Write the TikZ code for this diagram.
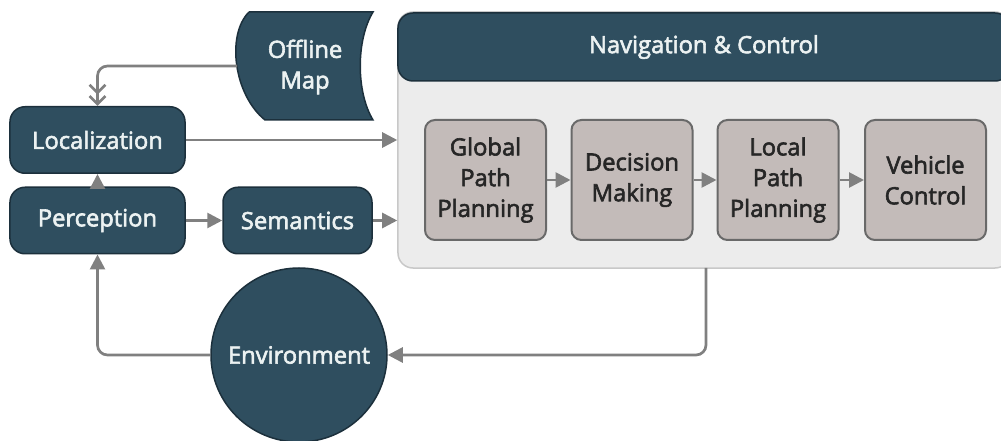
\documentclass[tikz,border=0pt]{standalone}
\usepackage{fontspec}
\setmainfont{Open Sans}
\newfontfamily\labelfamily{Open Sans}[FakeBold=2.5]
\usetikzlibrary{arrows.meta, shapes.geometric}
\definecolor{navy}{RGB}{47,78,95}
\definecolor{navyedge}{RGB}{28,48,60}
\definecolor{paper}{RGB}{236,242,242}
\definecolor{stone}{RGB}{195,187,185}
\definecolor{stoneedge}{RGB}{105,105,105}
\definecolor{panel}{RGB}{236,236,236}
\definecolor{paneledge}{RGB}{200,200,200}
\definecolor{wire}{RGB}{128,128,128}
\tikzset{label font/.style = {font=\labelfamily\fontsize{13.5}{17.5}\selectfont}}
\tikzset{dark/.style = {draw=navyedge, line width=0.3mm, fill=navy, text=paper, label font}}
\tikzset{block/.style = {dark, rounded corners=3mm, minimum height=13.3mm}}
\tikzset{stage/.style = {draw=stoneedge, fill=stone, line width=0.4mm, rounded corners=2mm, minimum width=24.2mm, minimum height=24mm, align=center, text=black!85, label font}}
\tikzset{flow/.style = {draw=wire, line width=0.54mm, rounded corners=2mm, -{Triangle[length=3mm, width=3mm]}}}

\begin{document}
\begin{tikzpicture}[x=0.2mm, y=-0.2mm]
\useasboundingbox (0,0) rectangle (1001,441);
% container
\node (nav) [draw=paneledge, fill=panel, line width=0.3mm, rounded corners=3mm, minimum width=122.4mm, minimum height=51.2mm] at (704,140) {};
\node (head) [dark, rounded corners=3mm, minimum width=122.4mm, minimum height=13.6mm] at (704,47) {Navigation \& Control};
% left column
\node (loc) [block, minimum width=35mm] at (97.5,140) {Localization};
\node (perc) [block, minimum width=35mm] at (97.5,220.5) {Perception};
\node (sem) [block, minimum width=29.8mm] at (297.5,220.5) {Semantics};
% stored data
\draw[dark] (249,12) -- (373,12) .. controls (356,40) and (356,92) .. (373,120)
  -- (265,120) .. controls (234,95) and (226,35) .. (249,12);
\node (map) [text=paper, align=center, label font] at (305,67) {Offline\\Map};
\coordinate (mapin) at (237,66);
% stages
\node (g1) [stage] at (485.5,180) {Global\\Path\\Planning};
\node (g2) [stage] at (632,180) {Decision\\Making};
\node (g3) [stage] at (778,180) {Local\\Path\\Planning};
\node (g4) [stage] at (925.5,180) {Vehicle\\Control};
% environment
\node (env) [dark, ellipse, minimum width=35.2mm, minimum height=34.8mm] at (299,355) {};
\node (envtext) [text=paper, label font] at (env) {Environment};
\coordinate (out) at (706,268);
% connectors
\draw[flow, -{Straight Barb[length=1.6mm, width=3.2mm] Straight Barb[length=1.6mm, width=3.2mm]}] (mapin) -| (loc.north);
\draw[flow] (loc.east) -- (nav.west |- loc.east);
\draw[flow] (perc.north) -- (loc.south);
\draw[flow] (perc.east) -- (sem.west);
\draw[flow] (sem.east) -- (nav.west |- sem.east);
\foreach \a/\b in {g1/g2, g2/g3, g3/g4}
  \draw[flow] (\a) -- (\b);
\draw[flow] (out) |- (env.east);
\draw[flow] (env.west) -| (perc.south);
\end{tikzpicture}
\end{document}
